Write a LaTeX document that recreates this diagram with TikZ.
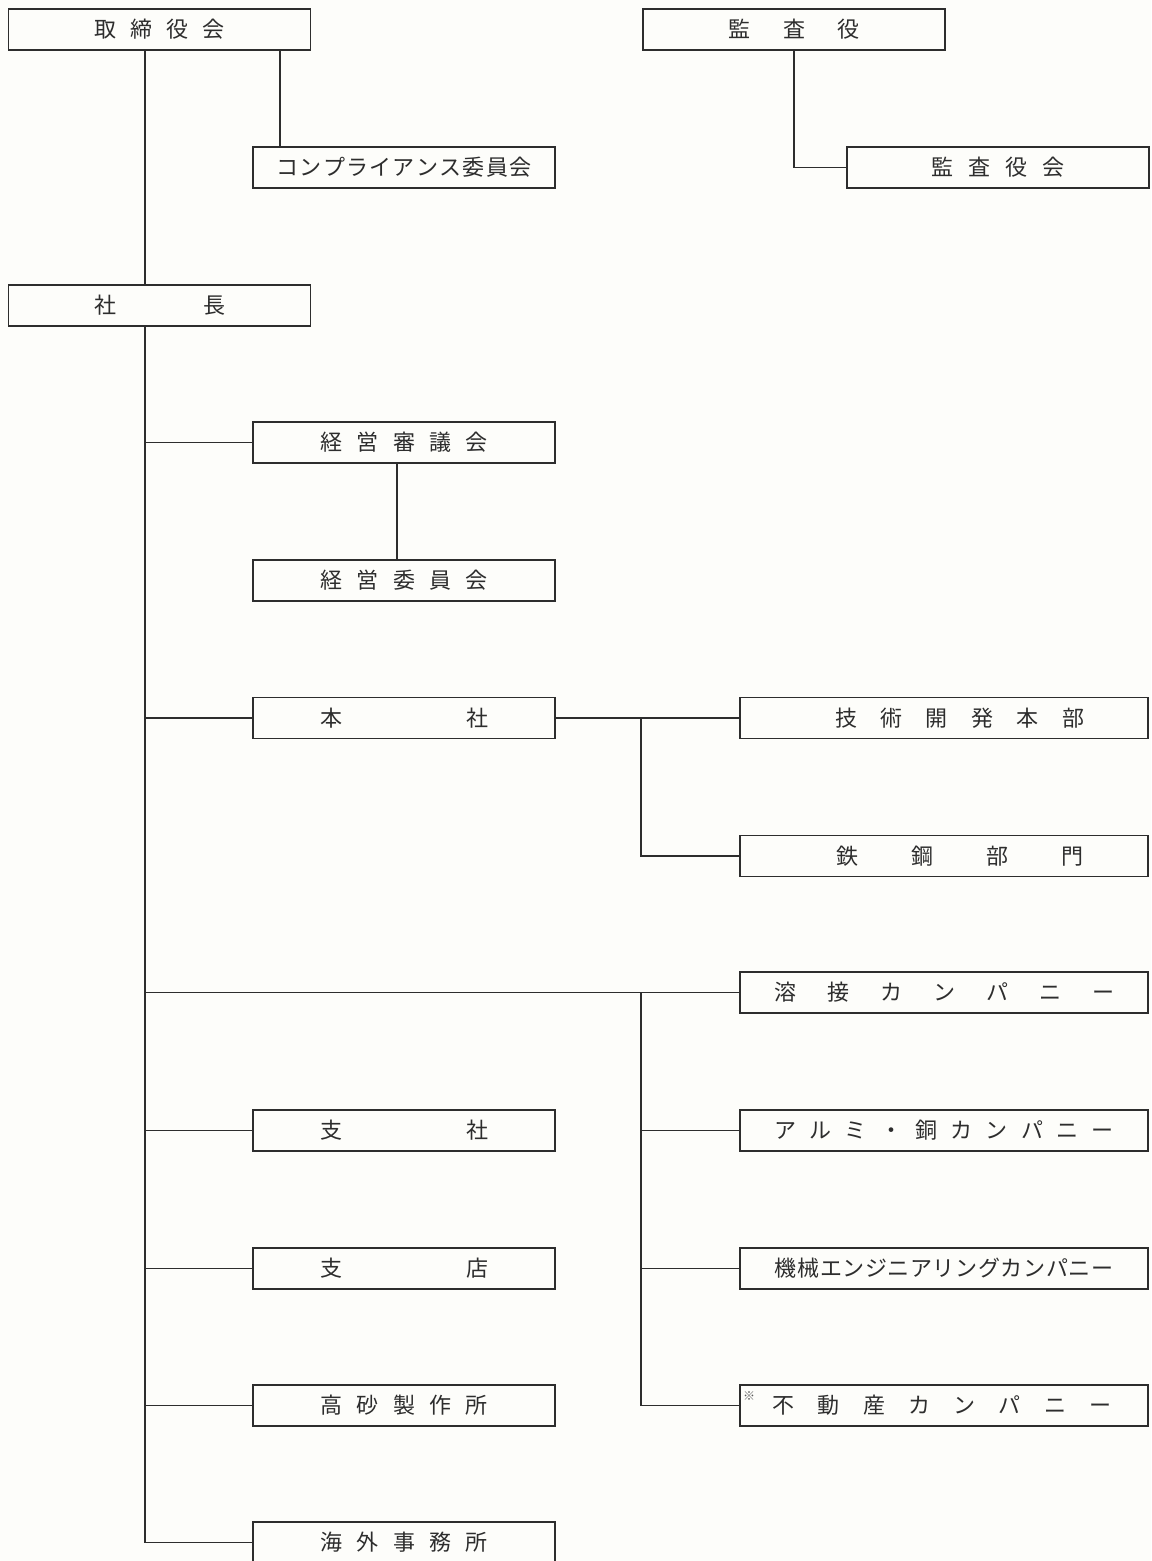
\documentclass[tikz,border=0pt]{standalone}
\usepackage{fontspec}
\setmainfont{Noto Sans CJK JP}
\newcommand\chsloop[1]{\ifx#1\relax\else\makebox[\chspitch][c]{#1}\expandafter\chsloop\fi}
\newcommand\chs[2]{\def\chspitch{#1}\chsloop#2\relax}
\definecolor{ink}{RGB}{45,45,45}
\definecolor{paper}{RGB}{253,253,250}
\tikzset{
  orgbox/.style={draw=ink, line width=0.75pt, minimum height=20.5pt, inner sep=0pt, anchor=center, font=\fontsize{11pt}{13pt}\selectfont, text=ink},
  leftbox/.style={orgbox, minimum width=151pt},
  rightbox/.style={orgbox, minimum width=204pt},
  link/.style={draw=ink, line width=0.75pt},
}
\begin{document}
\begin{tikzpicture}[x=0.5pt,y=-0.5pt]
\fill[paper] (0,0) rectangle (1151,1561);
\useasboundingbox (0,0) rectangle (1151,1561);
\clip (0,0) rectangle (1151,1561);
% top
\node[leftbox] (tori) at (159.5,29.5) {\chs{17.85pt}{取締役会}};
\node[leftbox] (kansa) at (794,29.5) {\chs{27.25pt}{監査役}};
\node[leftbox] (comp) at (404,167.5) {\chs{11.65pt}{コンプライアンス委員会}};
\node[leftbox] (kansakai) at (998,167.5) {\chs{18.5pt}{監査役会}};
\node[leftbox] (shacho) at (159.5,305.5) {\chs{54.5pt}{社長}};
% left column
\node[leftbox] (shingi) at (404,442.5) {\chs{18.25pt}{経営審議会}};
\node[leftbox] (iin) at (404,580.5) {\chs{18.25pt}{経営委員会}};
\node[leftbox] (honsha) at (404,718) {\chs{73pt}{本社}};
\node[leftbox] (shisha) at (404,1130.5) {\chs{73pt}{支社}};
\node[leftbox] (shiten) at (404,1268.5) {\chs{73pt}{支店}};
\node[leftbox] (takasago) at (404,1405.5) {\chs{18.25pt}{高砂製作所}};
\node[leftbox] (kaigai) at (404,1542.5) {\chs{18.25pt}{海外事務所}};
% right column
\node[rightbox] (gijutsu) at (944,718) {\hspace*{15.5pt}\chs{22.7pt}{技術開発本部}};
\node[rightbox] (tekko) at (944,856) {\hspace*{16pt}\chs{37.65pt}{鉄鋼部門}};
\node[rightbox] (yosetsu) at (944,992.5) {\chs{26.5pt}{溶接カンパニー}};
\node[rightbox] (alumi) at (944,1130.5) {\chs{17.65pt}{アルミ・銅カンパニー}};
\node[rightbox] (kikai) at (944,1268.5) {\chs{11.3pt}{機械エンジニアリングカンパニー}};
\node[rightbox] (fudosan) at (944,1405.5) {\hspace*{-2pt}\chs{22.65pt}{不動産カンパニー}};
\node[font=\fontsize{6pt}{7pt}\selectfont, text=ink!80, inner sep=0pt] (kome) at (749,1396) {※};
% connector anchors
\coordinate (trunk) at (145,0);
\coordinate (comptap) at (280,0);
\coordinate (shingitap) at (397,0);
\coordinate (bus) at (641,0);
% connectors
\draw[link] (tori.south -| trunk) -- (shacho.north -| trunk);
\draw[link] (tori.south -| comptap) -- (comp.north -| comptap);
\draw[link] (kansa.south) -- (kansa.south |- kansakai.west) -- (kansakai.west);
\draw[link] (shacho.south -| trunk) -- (trunk |- kaigai.west) -- (kaigai.west);
\foreach \n in {shingi,honsha,shisha,shiten,takasago}
  \draw[link] (trunk |- \n.west) -- (\n.west);
\draw[link] (shingi.south -| shingitap) -- (iin.north -| shingitap);
\draw[link] (honsha.east) -- (gijutsu.west);
\draw[link] (bus |- gijutsu.west) -- (bus |- tekko.west) -- (tekko.west);
\draw[link] (trunk |- yosetsu.west) -- (yosetsu.west);
\draw[link] (bus |- yosetsu.west) -- (bus |- fudosan.west) -- (fudosan.west);
\foreach \n in {alumi,kikai}
  \draw[link] (bus |- \n.west) -- (\n.west);
\end{tikzpicture}
\end{document}
